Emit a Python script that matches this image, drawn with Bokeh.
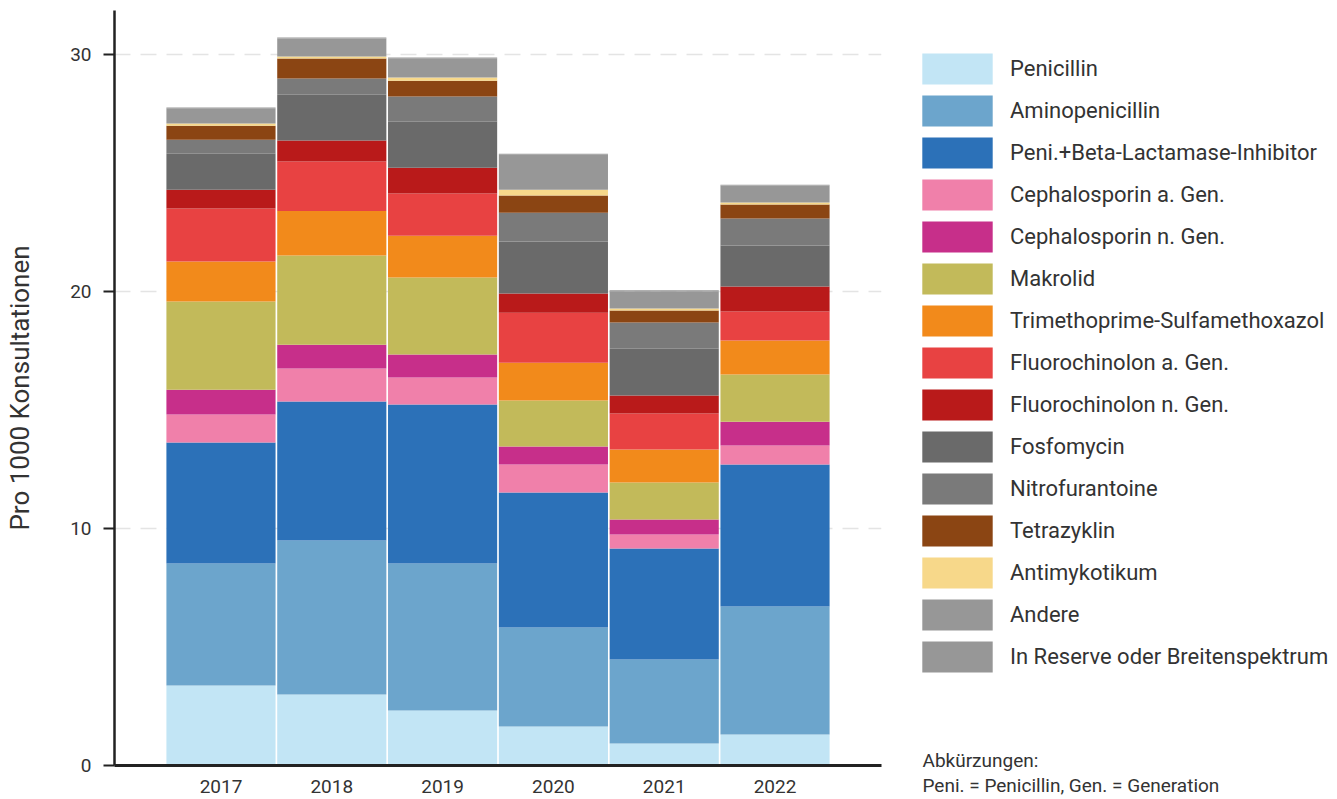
from bokeh.plotting import figure
from bokeh.models import FactorRange, Range1d, Label, FixedTicker
from bokeh.layouts import row
from bokeh.embed import file_html
from bokeh.resources import INLINE

years = ["2017", "2018", "2019", "2020", "2021", "2022"]
names = ["Penicillin", "Aminopenicillin", "Peni.+Beta-Lactamase-Inhibitor",
         "Cephalosporin a. Gen.", "Cephalosporin n. Gen.", "Makrolid",
         "Trimethoprime-Sulfamethoxazol", "Fluorochinolon a. Gen.",
         "Fluorochinolon n. Gen.", "Fosfomycin", "Nitrofurantoine",
         "Tetrazyklin", "Antimykotikum", "Andere", "In Reserve oder Breitenspektrum"]
colors = ["#c2e5f5", "#6ca5cc", "#2c71b8", "#f080aa", "#c72f8a", "#c2ba5a",
          "#f28a1b", "#e84242", "#b91a1a", "#6a6a6a", "#7a7a7a", "#8b4513",
          "#f7d88a", "#979797", "#979797"]

penicillin      = [3.38, 3.00, 2.32, 1.65, 0.93, 1.31]
aminopenicillin = [5.14, 6.49, 6.20, 4.17, 3.54, 5.40]
peni_bli        = [5.11, 5.87, 6.71, 5.70, 4.69, 5.99]
ceph_a          = [1.18, 1.39, 1.14, 1.18, 0.59, 0.80]
ceph_n          = [1.05, 1.01, 0.97, 0.76, 0.63, 1.01]
makrolid        = [3.72, 3.76, 3.25, 1.94, 1.56, 1.99]
tmp_smx         = [1.69, 1.88, 1.77, 1.60, 1.39, 1.43]
fluoro_a        = [2.23, 2.09, 1.78, 2.11, 1.52, 1.23]
fluoro_n        = [0.80, 0.88, 1.08, 0.81, 0.76, 1.05]
fosfomycin      = [1.52, 1.94, 1.95, 2.19, 1.98, 1.73]
nitrofurantoine = [0.59, 0.68, 1.06, 1.22, 1.10, 1.14]
tetrazyklin     = [0.59, 0.84, 0.67, 0.72, 0.51, 0.59]
antimykotikum   = [0.09, 0.09, 0.13, 0.25, 0.08, 0.09]
andere          = [0.64, 0.76, 0.81, 1.47, 0.73, 0.71]
reserve         = [0.04, 0.04, 0.04, 0.04, 0.04, 0.04]

notes = ["Abkürzungen:", "Peni. = Penicillin, Gen. = Generation"]

series = [penicillin, aminopenicillin, peni_bli, ceph_a, ceph_n, makrolid,
          tmp_smx, fluoro_a, fluoro_n, fosfomycin, nitrofurantoine,
          tetrazyklin, antimykotikum, andere, reserve]

keys = ["s%d" % i for i in range(len(series))]
data = {"year": years}
for k, s in zip(keys, series):
    data[k] = s

FONT = "Roboto"
TXT = "#333333"
H = 797

# ---- main chart ----
p = figure(width=900, height=H, output_backend="svg", toolbar_location=None,
           x_range=FactorRange(factors=years, range_padding=0.461,
                               range_padding_units="absolute"),
           y_range=Range1d(0, 31.86),
           min_border_left=114, min_border_right=19, min_border_top=10,
           min_border_bottom=32)

p.vbar_stack(keys, x="year", width=0.985, color=colors, line_color=None,
             source=data)

p.outline_line_color = None
p.background_fill_color = "white"
p.xgrid.grid_line_color = None
p.ygrid.grid_line_color = "#e4e4e4"
p.ygrid.grid_line_dash = "16 10"
p.ygrid.grid_line_width = 1.5
p.yaxis.ticker = FixedTicker(ticks=[0, 10, 20, 30])
p.yaxis.minor_tick_line_color = None
p.yaxis.major_tick_out = 11
p.yaxis.major_tick_in = 0
p.yaxis.major_tick_line_width = 2
p.yaxis.major_tick_line_color = "#222222"
p.yaxis.axis_line_width = 2.5
p.yaxis.axis_line_color = "#222222"
p.yaxis.major_label_standoff = 12
p.yaxis.major_label_text_font = FONT
p.yaxis.major_label_text_font_size = "19px"
p.yaxis.major_label_text_color = TXT
p.yaxis.axis_label = "Pro 1000 Konsultationen"
p.yaxis.axis_label_text_font = FONT
p.yaxis.axis_label_text_font_size = "26px"
p.yaxis.axis_label_text_font_style = "normal"
p.yaxis.axis_label_text_color = TXT
p.yaxis.axis_label_standoff = 32

p.xaxis.major_tick_line_color = None
p.xaxis.minor_tick_line_color = None
p.xaxis.axis_line_width = 3
p.xaxis.axis_line_color = "#222222"
p.xaxis.major_label_standoff = 8
p.xaxis.major_label_text_font = FONT
p.xaxis.major_label_text_font_size = "19px"
p.xaxis.major_label_text_color = TXT

# ---- legend / notes panel ----
p2 = figure(width=435, height=H, output_backend="svg", toolbar_location=None,
            x_range=FactorRange(factors=years), y_range=Range1d(-100, -50),
            x_axis_type=None, y_axis_type=None,
            min_border_left=0, min_border_right=0, min_border_top=0,
            min_border_bottom=0)
p2.frame_align = False
p2.outline_line_color = None
rs = p2.vbar_stack(keys, x="year", width=0.985, color=colors, line_color=None,
                   source=data, legend_label=names)
for r in rs:
    r.visible = False

lg = p2.legend[0]
lg.location = (13, H - 676)
lg.padding = 0
lg.margin = 0
lg.border_line_color = None
lg.background_fill_alpha = 0
lg.inactive_fill_alpha = 0
lg.click_policy = "none"
lg.glyph_width = 88
lg.glyph_height = 39
lg.spacing = 3
lg.label_standoff = 9
lg.label_text_font = FONT
lg.label_text_font_size = "22px"
lg.label_text_color = TXT
lg.label_height = 39

for txt, yy in zip(notes, [H - 760, H - 785]):
    p2.add_layout(Label(x=22, y=yy, x_units="screen", y_units="screen", text=txt,
                        text_font=FONT, text_font_size="19px", text_color=TXT,
                        text_baseline="middle"))

open("out.html", "w").write(file_html(row(p, p2), INLINE))
